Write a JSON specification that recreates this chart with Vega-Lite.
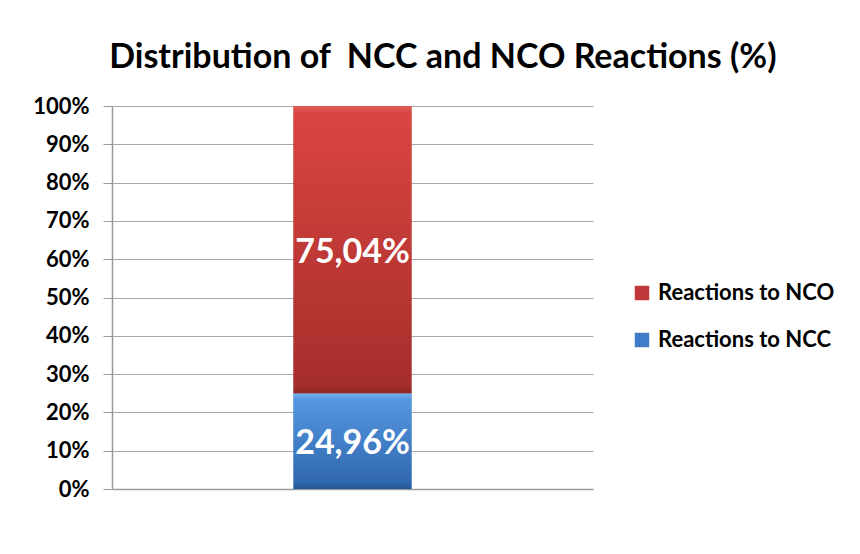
{
  "$schema": "https://vega.github.io/schema/vega-lite/v6.json",
  "width": 481,
  "height": 383,
  "autosize": {"type": "none"},
  "padding": {"left": 112, "top": 106, "right": 267, "bottom": 65},
  "background": "white",
  "config": {
    "locale": {"number": {"decimal": ",", "thousands": ".", "grouping": [3], "currency": ["", " €"]}},
    "view": {"stroke": null},
    "font": "Lato"
  },
  "title": {
    "text": "Distribution of\u00a0 NCC and NCO Reactions (%)",
    "font": "Lato",
    "fontSize": 34,
    "fontWeight": "bold",
    "color": "#000000",
    "anchor": "middle",
    "frame": "bounds",
    "offset": 20,
    "dx": 9
  },
  "data": {
    "values": [
      {"cat": "A", "type": "Reactions to NCC", "share": 0.2496},
      {"cat": "A", "type": "Reactions to NCO", "share": 0.7504}
    ]
  },
  "transform": [
    {"stack": "share", "groupby": ["cat"], "sort": [{"field": "type", "order": "ascending"}], "as": ["y0s", "y1s"]}
  ],
  "encoding": {
    "x": {
      "field": "cat",
      "type": "nominal",
      "scale": {"paddingInner": 0, "paddingOuter": 0},
      "axis": {"labels": false, "ticks": false, "title": null, "domainColor": "#9a9a9a", "domainWidth": 1.5}
    },
    "y": {
      "field": "y0s",
      "type": "quantitative",
      "scale": {"domain": [0, 1]},
      "axis": {
        "format": ".0%",
        "values": [0, 0.1, 0.2, 0.3, 0.4, 0.5, 0.6, 0.7, 0.8, 0.9, 1],
        "title": null,
        "labelFont": "Lato",
        "labelFontSize": 22,
        "labelFontWeight": "bold",
        "labelColor": "#000000",
        "labelPadding": 14,
        "tickSize": 9,
        "tickColor": "#9a9a9a",
        "domainColor": "#9a9a9a",
        "domainWidth": 1.5,
        "gridColor": "#a8a8a8",
        "gridWidth": 1
      }
    },
    "y2": {"field": "y1s"}
  },
  "layer": [
    {
      "mark": {"type": "bar", "width": {"band": 0.2453}},
      "encoding": {
        "color": {
          "field": "type",
          "type": "nominal",
          "scale": {"domain": ["Reactions to NCO", "Reactions to NCC"], "range": ["#c0393a", "#3d7cc9"]},
          "legend": {
            "title": null,
            "orient": "none",
            "legendX": 519,
            "legendY": 176,
            "symbolType": "square",
            "symbolSize": 210,
            "symbolStrokeWidth": 0,
            "labelFont": "Lato",
            "labelFontSize": 22,
            "labelFontWeight": "bold",
            "labelColor": "#000000",
            "labelOffset": 5,
            "labelLimit": 400,
            "rowPadding": 25
          }
        }
      }
    },
    {
      "transform": [{"filter": "datum.type == 'Reactions to NCO'"}],
      "mark": {
        "type": "bar",
        "width": {"band": 0.2453},
        "color": {"gradient": "linear", "x1": 0, "y1": 0, "x2": 0, "y2": 1,
          "stops": [{"offset": 0, "color": "#e2605b"}, {"offset": 0.025, "color": "#da4541"}, {"offset": 0.97, "color": "#a52e2b"}, {"offset": 1, "color": "#8e2624"}]}
      }
    },
    {
      "transform": [{"filter": "datum.type == 'Reactions to NCC'"}],
      "mark": {
        "type": "bar",
        "width": {"band": 0.2453},
        "color": {"gradient": "linear", "x1": 0, "y1": 0, "x2": 0, "y2": 1,
          "stops": [{"offset": 0, "color": "#72aeea"}, {"offset": 0.07, "color": "#5597e0"}, {"offset": 0.93, "color": "#3068b0"}, {"offset": 1, "color": "#255592"}]}
      }
    },
    {
      "transform": [
        {"fold": ["y0s", "y1s"], "as": ["edge", "pos"]},
        {"aggregate": [{"op": "mean", "field": "pos", "as": "mid"}], "groupby": ["cat", "type", "share"]}
      ],
      "mark": {"type": "text", "color": "#ffffff", "font": "Lato", "fontSize": 34, "fontWeight": "bold", "baseline": "middle", "align": "center", "dy": 3},
      "encoding": {
        "y": {"field": "mid", "type": "quantitative"},
        "y2": null,
        "text": {"field": "share", "type": "quantitative", "format": ".2%"}
      }
    }
  ]
}
